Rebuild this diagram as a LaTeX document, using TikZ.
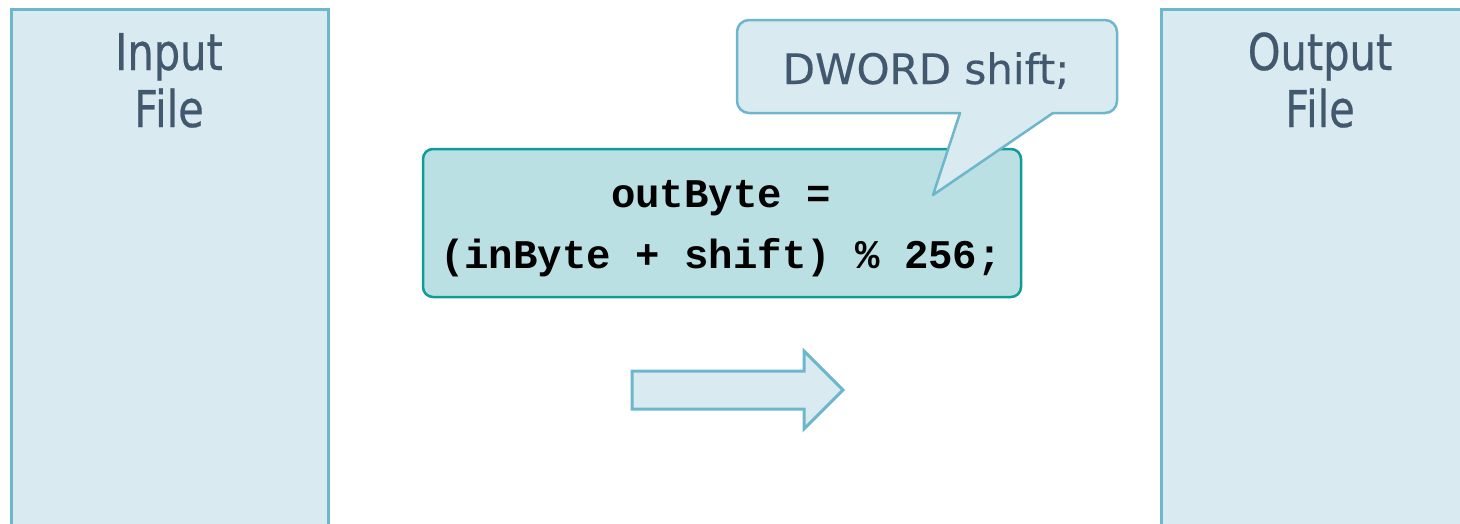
\documentclass[tikz,border=0pt]{standalone}
\usepackage{fontspec}
\newfontfamily\labelfont{DejaVu Sans}[FakeStretch=0.82,FakeBold=0.5]
\newfontfamily\callfont{DejaVu Sans}[FakeBold=0.4]
\newfontfamily\codefont{Liberation Mono}
\definecolor{paneline}{HTML}{6CB7CC}
\definecolor{panefill}{HTML}{DAEAF1}
\definecolor{codefill}{HTML}{BBE0E3}
\definecolor{codeline}{HTML}{0F9C97}
\definecolor{labeltext}{HTML}{41586E}
\begin{document}
\begin{tikzpicture}[x=1pt,y=-1pt,
  filebox/.style={draw=paneline,fill=panefill,line width=3pt,inner sep=0pt,anchor=north west},
  filelabel/.style={text=labeltext,font=\labelfont\fontsize{50.7}{57}\selectfont,anchor=base,inner sep=0pt},
  codebox/.style={draw=codeline,fill=codefill,line width=2.5pt,rounded corners=10pt,inner sep=0pt},
  codetext/.style={text=black,font=\codefont\bfseries\fontsize{40.7}{61}\selectfont,anchor=base,inner sep=0pt},
  calloutshape/.style={draw=paneline,fill=panefill,line width=2.5pt,line join=round},
  callouttext/.style={text=labeltext,font=\callfont\fontsize{42}{50}\selectfont,anchor=base,inner sep=0pt},
  flowarrow/.style={draw=paneline,fill=panefill,line width=3pt,line join=miter}]
\useasboundingbox (0,0) rectangle (1460,523);
\clip (0,0) rectangle (1460,523);

% input and output file panes (run past the lower edge)
\node[filebox,minimum width=317pt,minimum height=560pt] (infile) at (10,8) {};
\node[filelabel] (inname) at (169,70) {Input};
\node[filelabel] (infilename) at (169,127) {File};

\node[filebox,minimum width=400pt,minimum height=560pt] (outfile) at (1160,8) {};
\node[filelabel] (outname) at (1320,70) {Output};
\node[filelabel] (outfilename) at (1320,127) {File};

% the transformation formula
\node[codebox,minimum width=598pt,minimum height=148pt] (code) at (722,223) {};
\node[codetext] (codeline1) at (721,207) {outByte =};
\node[codetext] (codeline2) at (721,268) {(inByte + shift) \% 256;};

% speech bubble naming the shift variable; the pointer corners stay sharp
\coordinate (tip) at (933,195);
\draw[calloutshape] (927,20) [rounded corners=12pt] -- (737,20) -- (737,113)
  [sharp corners] -- (960,113) -- (tip) -- (1053,113)
  [rounded corners=12pt] -- (1117,113) -- (1117,20) -- cycle;
\node[callouttext] (shiftdecl) at (926,84) {DWORD shift;};

% block arrow showing the data flow
\draw[flowarrow] (632,371) -- (804,371) -- (804,351) -- (843,390) -- (804,429) -- (804,409) -- (632,409) -- cycle;
\end{tikzpicture}
\end{document}
